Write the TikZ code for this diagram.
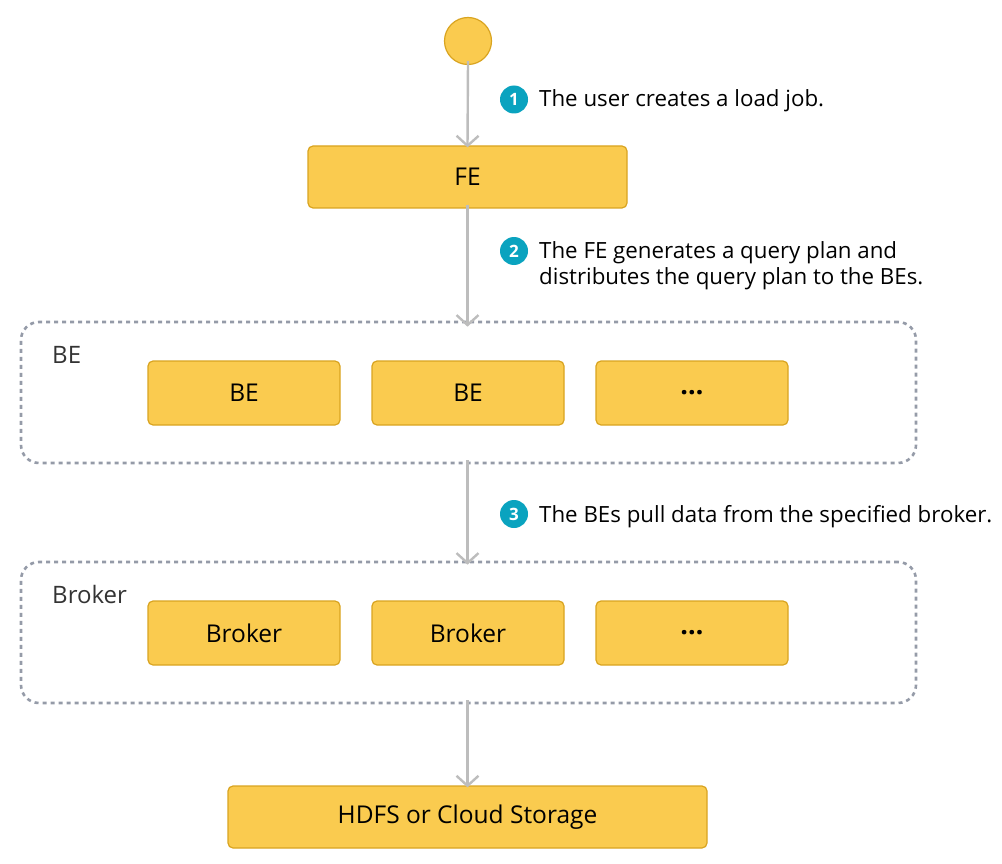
\documentclass[tikz,border=0pt]{standalone}
\usepackage{fontspec}
\setmainfont{Open Sans}
\usetikzlibrary{arrows.meta}
\definecolor{boxfill}{HTML}{FACB4F}
\definecolor{boxline}{HTML}{D9A420}
\definecolor{arrowgray}{HTML}{BDBDBD}
\definecolor{dashgray}{HTML}{959BA8}
\definecolor{badgeteal}{HTML}{0AA3BF}
\definecolor{labelgray}{HTML}{333333}
\begin{document}
\begin{tikzpicture}[x=1pt,y=-1pt,
  ybox/.style={draw=boxline,fill=boxfill,line width=1.2pt,rounded corners=5pt,
    inner sep=0pt,font=\fontsize{24.5}{28}\selectfont,text=black},
  group/.style={draw=dashgray,line width=2.6pt,dash pattern=on 4pt off 4pt,rounded corners=18pt,inner sep=0pt},
  flow/.style={draw=arrowgray,line width=2.4pt,-{Straight Barb[length=10pt,width=22pt,line width=2.4pt]}},
  badge/.style={circle,fill=badgeteal,minimum size=28pt,inner sep=0pt,text=white,font=\fontsize{17}{17}\selectfont\bfseries},
  steptext/.style={anchor=base west,inner sep=0pt,font=\fontsize{22.3}{26}\selectfont,text=black,align=left},
  grouplabel/.style={anchor=base west,inner sep=0pt,font=\fontsize{24}{28}\selectfont,text=labelgray},
  dots/.style={font=\fontsize{27}{27}\selectfont\bfseries}
]
\useasboundingbox (0,0) rectangle (1002,864);
% start
\node[circle,draw=boxline,fill=boxfill,line width=1.2pt,minimum size=47pt,inner sep=0pt] (start) at (468,41) {};
% FE
\node[ybox,minimum width=319pt,minimum height=62pt] (fe) at (467.5,177) {FE};
% BE group
\node[group,minimum width=895pt,minimum height=141pt] (begrp) at (468.5,392.5) {};
\node[grouplabel] (belabel) at (52,363) {BE};
\node[ybox,minimum width=192pt,minimum height=64pt] (be1) at (244,393) {BE};
\node[ybox,minimum width=192pt,minimum height=64pt] (be2) at (468,393) {BE};
\node[ybox,minimum width=192pt,minimum height=64pt] (be3) at (692,393) {};
\node[dots] (be3dots) at (be3.center) {…};
% Broker group
\node[group,minimum width=895pt,minimum height=141pt] (brgrp) at (468.5,632.5) {};
\node[grouplabel] (brlabel) at (52,603) {Broker};
\node[ybox,minimum width=192pt,minimum height=64pt] (br1) at (244,633) {Broker};
\node[ybox,minimum width=192pt,minimum height=64pt] (br2) at (468,633) {Broker};
\node[ybox,minimum width=192pt,minimum height=64pt] (br3) at (692,633) {};
\node[dots] (br3dots) at (br3.center) {…};
% storage
\node[ybox,minimum width=479pt,minimum height=62pt] (hdfs) at (467.5,817) {HDFS or Cloud Storage};
% arrows
\draw[flow] ([yshift=4pt]start.south) -- ([yshift=-2pt]fe.north);
\draw[flow] ([yshift=4pt]fe.south) -- ([yshift=-6pt]fe.south |- begrp.north);
\draw[flow] ([yshift=4pt]fe.south |- begrp.south) -- ([yshift=-4pt]fe.south |- brgrp.north);
\draw[flow] ([yshift=4pt]fe.south |- brgrp.south) -- ([yshift=-2pt]hdfs.north);
% steps
\node[badge] (b1) at (514,99.5) {1};
\node[steptext] (t1) at (539,107) {The user creates a load job.};
\node[badge] (b2) at (514,251) {2};
\node[steptext] (t2) at (539,284) {The FE generates a query plan and\\distributes the query plan to the BEs.};
\node[badge] (b3) at (514,514) {3};
\node[steptext] (t3) at (539,522) {The BEs pull data from the specified broker.};
\end{tikzpicture}
\end{document}
